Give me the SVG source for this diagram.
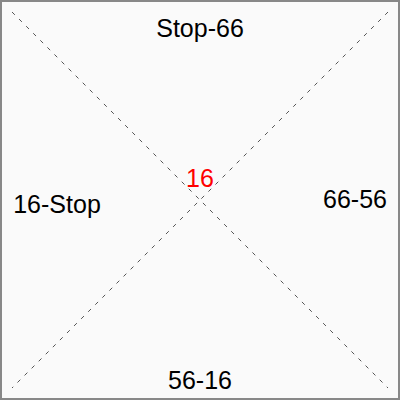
<svg xmlns="http://www.w3.org/2000/svg" width="400" height="400" viewBox="0 0 400 400">
<style>
.lbl{font-family:"Liberation Sans",Arial,sans-serif;font-size:25px;text-anchor:middle;fill:#000}
.ctr{fill:#ff0000}
.conn{stroke:#555;stroke-width:1;stroke-dasharray:4,6;fill:none}
</style>
<rect x="1" y="1" width="398" height="398" fill="#fafafa" stroke="#888" stroke-width="2"/>
<g id="connectors">
<line class="conn" x1="12" y1="12" x2="388" y2="388"/>
<line class="conn" x1="388" y1="12" x2="12" y2="388"/>
</g>
<g id="top"><text class="lbl" x="200" y="37">Stop-66</text></g>
<g id="left"><text class="lbl" x="57" y="213">16-Stop</text></g>
<g id="right"><text class="lbl" x="355" y="208">66-56</text></g>
<g id="bottom"><text class="lbl" x="200" y="389">56-16</text></g>
<g id="center"><text class="lbl ctr" x="200" y="187">16</text></g>
</svg>
